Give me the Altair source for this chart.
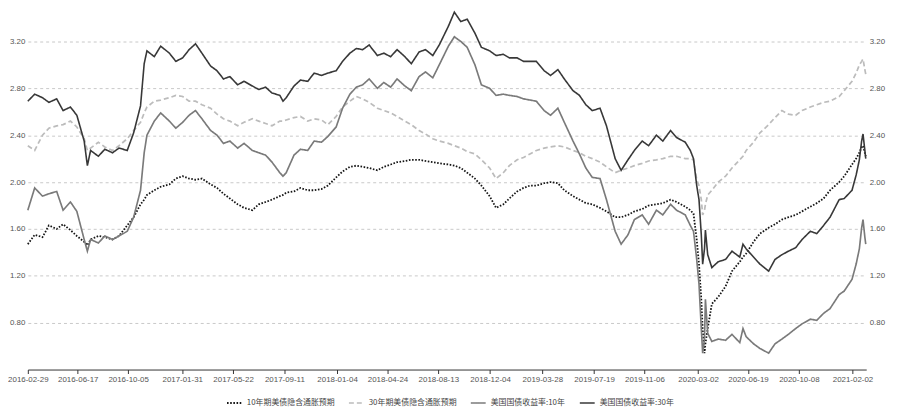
import altair as alt
import pandas as pd

dates = [
    "2016-02-29", "2016-03-15", "2016-04-01", "2016-04-15", "2016-05-02", "2016-05-16", "2016-06-01", "2016-06-15",
    "2016-07-01", "2016-07-08", "2016-07-15", "2016-08-01", "2016-08-15", "2016-09-01", "2016-09-15", "2016-10-03",
    "2016-10-17", "2016-11-01", "2016-11-09", "2016-11-15", "2016-12-01", "2016-12-15", "2017-01-03", "2017-01-17",
    "2017-02-01", "2017-02-15", "2017-03-01", "2017-03-15", "2017-04-03", "2017-04-17", "2017-05-01", "2017-05-15",
    "2017-06-01", "2017-06-15", "2017-07-03", "2017-07-17", "2017-08-01", "2017-08-15", "2017-09-01", "2017-09-08",
    "2017-09-15", "2017-10-02", "2017-10-16", "2017-11-01", "2017-11-15", "2017-12-01", "2017-12-15", "2018-01-02",
    "2018-01-16", "2018-02-01", "2018-02-15", "2018-03-01", "2018-03-15", "2018-04-02", "2018-04-16", "2018-05-01",
    "2018-05-15", "2018-06-01", "2018-06-15", "2018-07-02", "2018-07-16", "2018-08-01", "2018-08-15", "2018-09-04",
    "2018-09-17", "2018-10-01", "2018-10-15", "2018-11-01", "2018-11-15", "2018-12-03", "2018-12-17", "2019-01-02",
    "2019-01-15", "2019-02-01", "2019-02-15", "2019-03-01", "2019-03-15", "2019-04-01", "2019-04-15", "2019-05-01",
    "2019-05-15", "2019-06-03", "2019-06-17", "2019-07-01", "2019-07-15", "2019-08-01", "2019-08-15", "2019-09-03",
    "2019-09-16", "2019-10-01", "2019-10-15", "2019-11-01", "2019-11-15", "2019-12-02", "2019-12-16", "2020-01-02",
    "2020-01-15", "2020-02-03", "2020-02-14", "2020-02-21", "2020-02-28", "2020-03-04", "2020-03-09", "2020-03-12",
    "2020-03-16", "2020-03-18", "2020-03-23", "2020-04-01", "2020-04-15", "2020-05-01", "2020-05-15", "2020-06-01",
    "2020-06-08", "2020-06-15", "2020-07-01", "2020-07-15", "2020-08-03", "2020-08-17", "2020-09-01", "2020-09-15",
    "2020-10-01", "2020-10-15", "2020-11-02", "2020-11-16", "2020-12-01", "2020-12-15", "2021-01-04", "2021-01-15",
    "2021-02-01", "2021-02-10", "2021-02-17", "2021-02-22", "2021-02-25", "2021-03-01", "2021-03-03",
]

# 10年期美债隐含通胀预期 (dotted black)
be10 = [
    1.47, 1.55, 1.53, 1.63, 1.60, 1.64, 1.59, 1.54, 1.49, 1.46, 1.51, 1.54, 1.53, 1.51, 1.54, 1.63,
    1.70, 1.81, 1.85, 1.89, 1.93, 1.96, 1.98, 2.03, 2.05, 2.03, 2.02, 2.03, 1.98, 1.95, 1.90, 1.86,
    1.81, 1.78, 1.76, 1.81, 1.83, 1.85, 1.88, 1.89, 1.91, 1.92, 1.95, 1.93, 1.93, 1.94, 1.97, 2.04,
    2.09, 2.13, 2.14, 2.13, 2.12, 2.10, 2.13, 2.15, 2.17, 2.18, 2.19, 2.19, 2.18, 2.17, 2.16, 2.15,
    2.14, 2.12, 2.08, 2.03, 1.97, 1.88, 1.78, 1.81, 1.86, 1.92, 1.95, 1.97, 1.97, 1.99, 2.00, 1.99,
    1.93, 1.88, 1.85, 1.82, 1.81, 1.78, 1.75, 1.70, 1.70, 1.72, 1.75, 1.77, 1.80, 1.81, 1.82, 1.85,
    1.83, 1.79, 1.76, 1.73, 1.51, 1.30, 1.00, 0.75, 0.54, 0.62, 0.75, 0.96, 1.02, 1.11, 1.24, 1.32,
    1.36, 1.39, 1.49, 1.56, 1.61, 1.64, 1.68, 1.70, 1.72, 1.75, 1.79, 1.82, 1.86, 1.93, 2.00, 2.05,
    2.15, 2.20, 2.25, 2.30, 2.31, 2.25, 2.22,
]

# 30年期美债隐含通胀预期 (light gray dashed)
be30 = [
    2.31, 2.27, 2.40, 2.46, 2.48, 2.49, 2.52, 2.47, 2.37, 2.27, 2.29, 2.34, 2.30, 2.27, 2.31, 2.37,
    2.44, 2.51, 2.59, 2.64, 2.69, 2.70, 2.72, 2.74, 2.73, 2.69, 2.69, 2.66, 2.63, 2.58, 2.54, 2.52,
    2.48, 2.51, 2.54, 2.52, 2.50, 2.48, 2.52, 2.52, 2.53, 2.55, 2.56, 2.52, 2.54, 2.53, 2.49, 2.56,
    2.64, 2.69, 2.73, 2.71, 2.68, 2.63, 2.61, 2.59, 2.56, 2.52, 2.49, 2.44, 2.41, 2.37, 2.35, 2.33,
    2.31, 2.29, 2.26, 2.24, 2.19, 2.12, 2.03, 2.08, 2.14, 2.19, 2.21, 2.24, 2.27, 2.29, 2.30, 2.31,
    2.30, 2.27, 2.25, 2.22, 2.20, 2.17, 2.13, 2.08, 2.10, 2.12, 2.14, 2.16, 2.18, 2.19, 2.20, 2.22,
    2.22, 2.20, 2.20, 2.19, 2.02, 1.97, 1.85, 1.72, 1.76, 1.81, 1.89, 1.93, 2.00, 2.05, 2.12, 2.19,
    2.22, 2.27, 2.34, 2.42, 2.49, 2.55, 2.61, 2.58, 2.57, 2.61, 2.64, 2.66, 2.68, 2.69, 2.73, 2.78,
    2.86, 2.93, 3.00, 3.03, 3.05, 2.96, 2.92,
]

# 美国国债收益率:10年 (medium gray)
ust10 = [
    1.76, 1.95, 1.88, 1.90, 1.92, 1.76, 1.83, 1.75, 1.51, 1.41, 1.51, 1.48, 1.54, 1.51, 1.54, 1.58,
    1.70, 1.93, 2.25, 2.40, 2.52, 2.59, 2.52, 2.46, 2.51, 2.57, 2.61, 2.54, 2.44, 2.40, 2.33, 2.35,
    2.29, 2.33, 2.27, 2.25, 2.23, 2.17, 2.08, 2.05, 2.08, 2.23, 2.28, 2.27, 2.35, 2.34, 2.39, 2.47,
    2.63, 2.75, 2.81, 2.83, 2.88, 2.80, 2.85, 2.81, 2.88, 2.82, 2.78, 2.90, 2.94, 2.89, 3.00, 3.16,
    3.24, 3.20, 3.15, 3.00, 2.83, 2.80, 2.74, 2.75, 2.74, 2.73, 2.71, 2.70, 2.69, 2.61, 2.57, 2.63,
    2.51, 2.35, 2.24, 2.12, 2.04, 2.03, 1.85, 1.58, 1.47, 1.55, 1.68, 1.72, 1.64, 1.76, 1.72, 1.81,
    1.76, 1.72, 1.63, 1.58, 1.34, 1.13, 0.75, 0.54, 0.66, 1.00, 0.71, 0.64, 0.66, 0.65, 0.70, 0.63,
    0.75, 0.68, 0.62, 0.58, 0.54, 0.62, 0.66, 0.70, 0.75, 0.79, 0.83, 0.82, 0.88, 0.92, 1.04, 1.07,
    1.17, 1.30, 1.43, 1.61, 1.68, 1.53, 1.47,
]

# 美国国债收益率:30年 (dark gray)
ust30 = [
    2.69, 2.75, 2.72, 2.68, 2.71, 2.61, 2.64, 2.57, 2.35, 2.14, 2.27, 2.22, 2.28, 2.25, 2.29, 2.27,
    2.42, 2.65, 3.01, 3.12, 3.07, 3.16, 3.10, 3.03, 3.06, 3.13, 3.18, 3.10, 2.99, 2.95, 2.88, 2.90,
    2.83, 2.86, 2.82, 2.79, 2.81, 2.76, 2.74, 2.69, 2.72, 2.82, 2.87, 2.86, 2.93, 2.91, 2.93, 2.95,
    3.03, 3.10, 3.14, 3.13, 3.17, 3.08, 3.10, 3.07, 3.13, 3.07, 3.01, 3.11, 3.13, 3.08, 3.17, 3.33,
    3.45, 3.37, 3.39, 3.27, 3.15, 3.12, 3.08, 3.09, 3.06, 3.06, 3.03, 3.03, 3.03, 2.95, 2.91, 2.96,
    2.88, 2.78, 2.74, 2.66, 2.61, 2.63, 2.48, 2.20, 2.10, 2.19, 2.27, 2.35, 2.31, 2.40, 2.35, 2.44,
    2.38, 2.34, 2.27, 2.20, 1.97, 1.85, 1.55, 1.30, 1.43, 1.59, 1.38, 1.27, 1.32, 1.34, 1.41, 1.36,
    1.47, 1.43, 1.36, 1.30, 1.24, 1.34, 1.38, 1.41, 1.44, 1.51, 1.58, 1.56, 1.63, 1.70, 1.85, 1.86,
    1.93, 2.06, 2.19, 2.35, 2.41, 2.27, 2.20,
]

names = ["10年期美债隐含通胀预期", "30年期美债隐含通胀预期", "美国国债收益率:10年", "美国国债收益率:30年"]
colors = ["#151515", "#bcbcbc", "#7a7a7a", "#383838"]
dashes = [[1.6, 1.6], [5, 3], [1, 0], [1, 0]]
widths = [1.8, 1.6, 2.0, 2.0]

tick_dates = [
    "2016-02-29", "2016-06-17", "2016-10-05", "2017-01-31", "2017-05-22", "2017-09-11", "2018-01-04",
    "2018-04-24", "2018-08-13", "2018-12-04", "2019-03-28", "2019-07-19", "2019-11-06", "2020-03-02",
    "2020-06-19", "2020-10-08", "2021-02-02",
]
y_ticks = [0.8, 1.2, 1.6, 2.0, 2.4, 2.8, 3.2]

wide = pd.DataFrame({"date": dates, names[0]: be10, names[1]: be30, names[2]: ust10, names[3]: ust30})
df = wide.melt("date", var_name="series", value_name="value")


def dt(s):
    y, m, d = (int(p) for p in s.split("-"))
    return alt.DateTime(year=y, month=m, date=d, utc=True)


CJK = "Noto Sans CJK SC"
NUM = "Liberation Sans"
x_scale = alt.Scale(type="utc", domain=[dt("2016-02-29"), dt("2021-03-04")])
y_scale = alt.Scale(domain=[0.4, 3.47], nice=False, zero=False)

legend = alt.Legend(
    title=None, orient="none", legendX=200, legendY=388, direction="horizontal",
    symbolType="stroke", symbolStrokeWidth=2, symbolSize=225, labelFont=CJK,
    labelFontSize=8, labelColor="#444", columnPadding=10, labelLimit=0, symbolOffset=0,
)

lines = alt.Chart(df).mark_line().encode(
    x=alt.X(
        "date:T", scale=x_scale,
        axis=alt.Axis(
            values=[dt(s) for s in tick_dates], labelExpr="utcFormat(datum.value, '%Y-%m-%d')",
            title=None, grid=False, domainColor="#333", tickColor="#333", tickSize=4,
            labelFontSize=8, labelColor="#555", labelPadding=2, labelOverlap=False, labelFont=NUM,
            labelFlush=False, labelBound=False,
        ),
    ),
    y=alt.Y(
        "value:Q", scale=y_scale,
        axis=alt.Axis(
            values=y_ticks, format=".2f", title=None, grid=True, gridDash=[3, 3], gridColor="#c8c8c8",
            domain=False, ticks=False, labelFontSize=8, labelColor="#555", labelPadding=3, labelFont=NUM,
        ),
    ),
    color=alt.Color("series:N", scale=alt.Scale(domain=names, range=colors), legend=legend),
    strokeDash=alt.StrokeDash("series:N", scale=alt.Scale(domain=names, range=dashes), legend=legend),
    strokeWidth=alt.StrokeWidth("series:N", scale=alt.Scale(domain=names, range=widths), legend=None),
)

right = alt.Chart(pd.DataFrame({"v": y_ticks})).mark_rule(opacity=0).encode(
    y=alt.Y(
        "v:Q", scale=y_scale,
        axis=alt.Axis(
            orient="right", values=y_ticks, format=".2f", title=None, grid=False, domain=False,
            ticks=False, labelFontSize=8, labelColor="#555", labelPadding=3, labelFont=NUM,
        ),
    )
)

chart = alt.layer(lines, right).resolve_axis(y="independent").properties(
    width=846, height=363,
    padding={"left": 20, "top": 0, "right": 25, "bottom": 40},
    autosize=alt.AutoSizeParams(type="none"),
).configure_view(stroke=None)

chart.save("out.html", embed_options={"renderer": "svg", "actions": False})
